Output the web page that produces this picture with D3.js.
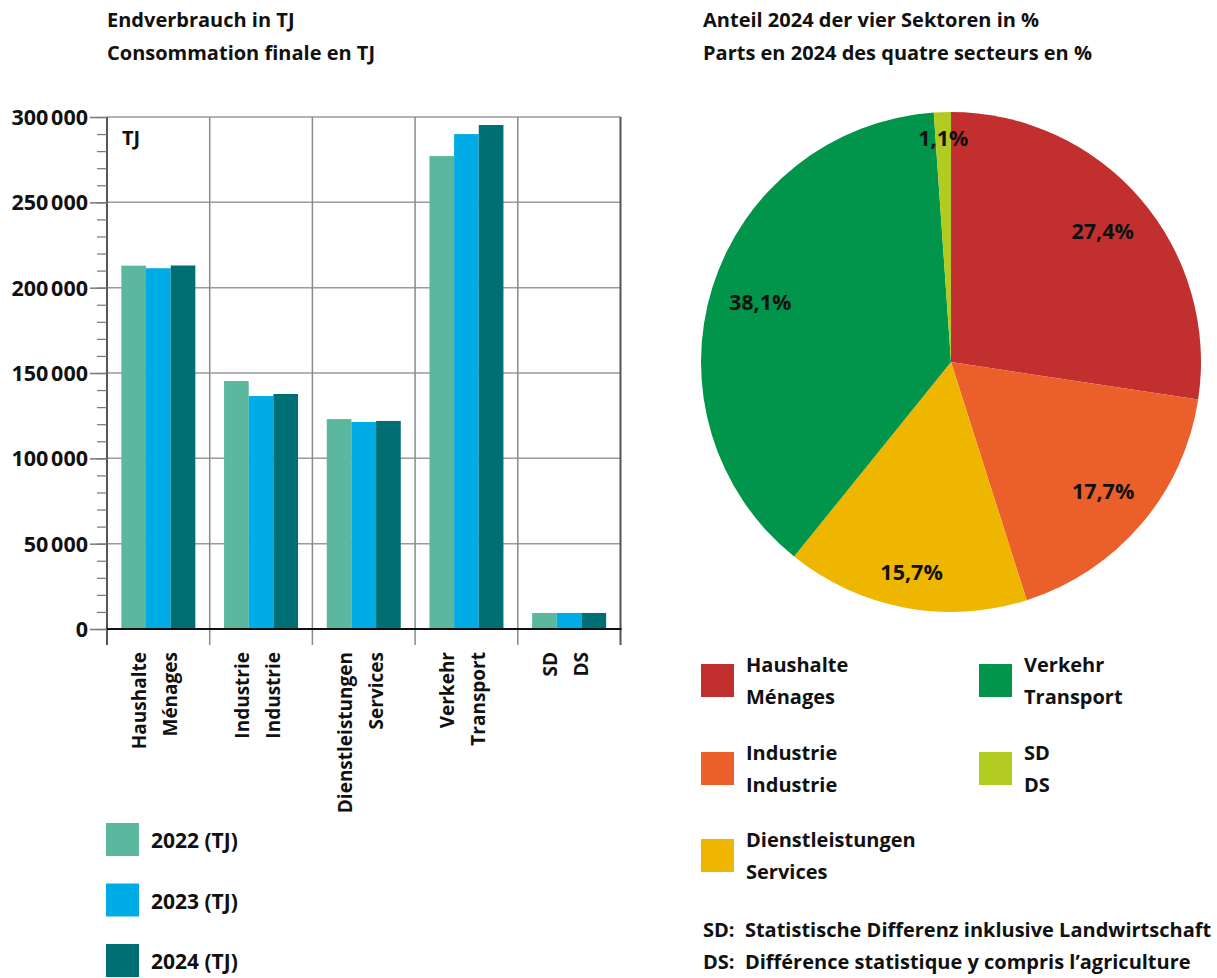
<!DOCTYPE html>
<html>
<head>
<meta charset="utf-8">
<script src="https://cdn.jsdelivr.net/npm/d3@7"></script>
<style>
  body { margin: 0; background: #fff; }
  svg text { font-family: "Open Sans", "Noto Sans", sans-serif; font-weight: 700; fill: #111; }
</style>
</head>
<body>
<svg width="1217" height="978"></svg>
<script>
// categories (two lines: german / french)
const categories = ['Haushalte', 'Industrie', 'Dienstleistungen', 'Verkehr', 'SD'];
const categoryLabels = [
  ['Haushalte', 'Ménages'],
  ['Industrie', 'Industrie'],
  ['Dienstleistungen', 'Services'],
  ['Verkehr', 'Transport'],
  ['SD', 'DS']
];
const years = ['2022', '2023', '2024'];
// final consumption in TJ
const values2022 = [212900, 145300, 123000, 277100, 9400];
const values2023 = [211400, 136500, 121300, 290000, 9400];
const values2024 = [213000, 137700, 121900, 295300, 9400];
const yTicks = [0, 50000, 100000, 150000, 200000, 250000, 300000];

// pie: shares 2024 in %
const pieNames = ['Haushalte', 'Industrie', 'Dienstleistungen', 'Verkehr', 'SD'];
const pieShares = [27.4, 17.7, 15.7, 38.1, 1.1];
const pieLabels = ['27,4%', '17,7%', '15,7%', '38,1%', '1,1%'];

const yearColors = ['#5bb79d', '#00ace6', '#006f74'];
const pieColors = ['#c1302f', '#ea5f2a', '#efb600', '#00954a', '#b1cb21'];

const svg = d3.select('svg');
const fs = 20;

// ---------- bar chart ----------
const plotL = 107, plotR = 620.5, plotT = 117, plotB = 629;
const series = [values2022, values2023, values2024];

const x = d3.scaleBand().domain(categories).range([plotL, plotR]).padding(0);
const groupW = 74;
const xSub = d3.scaleBand().domain(years).range([0, groupW]);
const y = d3.scaleLinear().domain([0, 300000]).range([plotB, plotT]);

svg.append('text').attr('x', 107).attr('y', 27).style('font-size', fs + 'px').text('Endverbrauch in TJ');
svg.append('text').attr('x', 107).attr('y', 60).style('font-size', fs + 'px').text('Consommation finale en TJ');

// horizontal grid
svg.append('g').selectAll('line').data(yTicks.filter(d => d > 0)).join('line')
  .attr('x1', plotL).attr('x2', plotR)
  .attr('y1', d => y(d)).attr('y2', d => y(d))
  .attr('stroke', '#9a9a98').attr('stroke-width', 1.5);

// vertical grid (category boundaries), extending below the axis
const bounds = categories.map(c => x(c)).concat([plotR]);
svg.append('g').selectAll('line').data(bounds).join('line')
  .attr('x1', d => d).attr('x2', d => d)
  .attr('y1', plotT).attr('y2', 645)
  .attr('stroke', (d, i) => (i === 0 || i === bounds.length - 1) ? '#555' : '#8a8a88')
  .attr('stroke-width', (d, i) => (i === 0 || i === bounds.length - 1) ? 2 : 1.5);

// bars
const groups = svg.append('g').selectAll('g').data(categories).join('g')
  .attr('transform', c => `translate(${x(c) + (x.bandwidth() - groupW) / 2},0)`);
groups.selectAll('rect')
  .data((c, i) => years.map((yr, j) => ({ yr, v: series[j][i], j })))
  .join('rect')
  .attr('x', d => xSub(d.yr))
  .attr('width', xSub.bandwidth())
  .attr('y', d => y(d.v))
  .attr('height', d => plotB - y(d.v))
  .attr('fill', d => yearColors[d.j]);

// baseline
svg.append('line').attr('x1', plotL - 1).attr('x2', plotR + 1)
  .attr('y1', plotB).attr('y2', plotB).attr('stroke', '#111').attr('stroke-width', 2);

// y axis: minor ticks
const fmt = d => d3.format(',')(d).replace(/,/g, '\u202F');
const minor = svg.append('g').attr('transform', `translate(${plotL},0)`)
  .call(d3.axisLeft(y).tickValues(d3.range(0, 300001, 10000)).tickSize(10).tickFormat(''));
minor.select('.domain').remove();
minor.selectAll('line').attr('stroke', '#777').attr('stroke-width', 1.2);

const major = svg.append('g').attr('transform', `translate(${plotL},0)`)
  .call(d3.axisLeft(y).tickValues(yTicks).tickSize(17).tickPadding(2).tickFormat(fmt));
major.select('.domain').remove();
major.selectAll('line').attr('stroke', '#777').attr('stroke-width', 1.5);
major.selectAll('text').style('font-size', '21.5px').attr('fill', '#111')
  .style('font-family', '"Open Sans", sans-serif').style('font-weight', 700)
  .attr('dy', '0.35em');

svg.append('text').attr('x', 122).attr('y', 145).style('font-size', fs + 'px').text('TJ');

// x labels, rotated
const xl = svg.append('g').selectAll('g').data(categories).join('g')
  .attr('transform', c => `translate(${x(c) + x.bandwidth() / 2},652) rotate(-90)`);
xl.selectAll('text').data((c, i) => categoryLabels[i]).join('text')
  .attr('x', 0).attr('y', (d, k) => k === 0 ? -12 : 19)
  .attr('text-anchor', 'end')
  .style('font-size', '19px')
  .text(d => d);

// bar legend
const bl = svg.append('g').selectAll('g').data(years).join('g')
  .attr('transform', (d, i) => `translate(106,${823 + i * 60.5})`);
bl.append('rect').attr('width', 33).attr('height', 33).attr('fill', (d, i) => yearColors[i]);
bl.append('text').attr('x', 45).attr('y', 25).style('font-size', '21px').text(d => `${d} (TJ)`);

// ---------- pie chart ----------
svg.append('text').attr('x', 703).attr('y', 27).style('font-size', fs + 'px').text('Anteil 2024 der vier Sektoren in %');
svg.append('text').attr('x', 703).attr('y', 60).style('font-size', fs + 'px').text('Parts en 2024 des quatre secteurs en %');

const cx = 951, cy = 362, R = 250;
const pie = d3.pie().sort(null).value(d => d);
const arcs = pie(pieShares);
const arc = d3.arc().innerRadius(0).outerRadius(R);
const pg = svg.append('g').attr('transform', `translate(${cx},${cy})`);
pg.selectAll('path').data(arcs).join('path')
  .attr('d', arc).attr('fill', (d, i) => pieColors[i]);

pg.selectAll('text').data(arcs).join('text')
  .attr('transform', d => {
    const r = d.data < 5 ? 224 : (d.index === 2 ? 214 : 200);
    const a = (d.startAngle + d.endAngle) / 2;
    return `translate(${Math.sin(a) * r},${-Math.cos(a) * r})`;
  })
  .attr('text-anchor', 'middle').attr('dy', '0.35em')
  .style('font-size', '21.5px')
  .text((d, i) => pieLabels[i]);

// pie legend
const legendLines = [
  ['Haushalte', 'Ménages'],
  ['Industrie', 'Industrie'],
  ['Dienstleistungen', 'Services'],
  ['Verkehr', 'Transport'],
  ['SD', 'DS']
];
const legPos = [[701, 664], [701, 752], [701, 839], [979, 664], [979, 752]];
const pl = svg.append('g').selectAll('g').data(pieNames).join('g')
  .attr('transform', (d, i) => `translate(${legPos[i][0]},${legPos[i][1]})`);
pl.append('rect').attr('width', 33).attr('height', 33).attr('fill', (d, i) => pieColors[i]);
pl.each(function (d, i) {
  const t = d3.select(this);
  legendLines[i].forEach((s, k) => {
    t.append('text').attr('x', 45).attr('y', 8 + k * 31.5).style('font-size', fs + 'px').text(s);
  });
});

svg.append('text').attr('x', 703).attr('y', 937).style('font-size', fs + 'px')
  .attr('xml:space', 'preserve').text('SD:  Statistische Differenz inklusive Landwirtschaft');
svg.append('text').attr('x', 703).attr('y', 969).style('font-size', fs + 'px')
  .attr('xml:space', 'preserve').text('DS:  Différence statistique y compris l’agriculture');
</script>
</body>
</html>
